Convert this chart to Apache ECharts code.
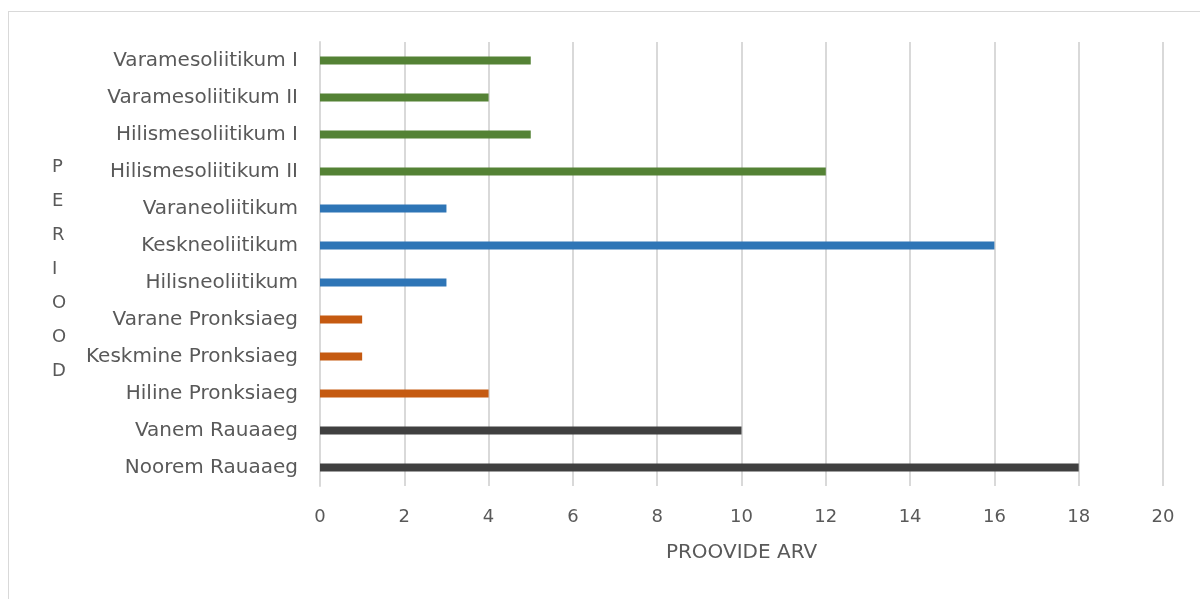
<!DOCTYPE html>
<html>
<head>
<meta charset="utf-8">
<script src="https://cdn.jsdelivr.net/npm/echarts@6/dist/echarts.min.js"></script>
<style>
  html, body { margin: 0; padding: 0; background: #fff; }
  #frame { position: absolute; left: 8px; top: 11px; width: 1300px; height: 700px;
           border-left: 1px solid #d9d9d9; border-top: 1px solid #d9d9d9; }
  #chart { position: absolute; left: 0; top: 0; width: 1200px; height: 599px; }
</style>
</head>
<body>
<div id="frame"></div>
<div id="chart"></div>
<script>
// Periods listed bottom to top, as the category axis draws them
const periods = [
  'Noorem Rauaaeg', 'Vanem Rauaaeg',
  'Hiline Pronksiaeg', 'Keskmine Pronksiaeg', 'Varane Pronksiaeg',
  'Hilisneoliitikum', 'Keskneoliitikum', 'Varaneoliitikum',
  'Hilismesoliitikum II', 'Hilismesoliitikum I', 'Varamesoliitikum II', 'Varamesoliitikum I'
];
// Number of samples per period
const sampleCounts = [18, 10, 4, 1, 1, 3, 16, 3, 12, 5, 4, 5];
// Epoch each period belongs to
const epochs = [
  'raud', 'raud',
  'pronks', 'pronks', 'pronks',
  'neoliit', 'neoliit', 'neoliit',
  'mesoliit', 'mesoliit', 'mesoliit', 'mesoliit'
];
const xTicks = [0, 2, 4, 6, 8, 10, 12, 14, 16, 18, 20];

const epochColor = {
  raud: '#404040',
  pronks: '#c55a11',
  neoliit: '#2e75b6',
  mesoliit: '#548235'
};

const textColor = '#595959';
const fontFamily = '"DejaVu Sans", sans-serif';

const chart = echarts.init(document.getElementById('chart'));
chart.setOption({
  animation: false,
  grid: { left: 320, right: 37, top: 42, bottom: 113 },
  xAxis: {
    type: 'value',
    min: xTicks[0],
    max: xTicks[xTicks.length - 1],
    interval: xTicks[1] - xTicks[0],
    name: 'PROOVIDE ARV',
    nameLocation: 'middle',
    nameGap: 57,
    nameTextStyle: { color: textColor, fontSize: 20, fontFamily },
    axisLine: { show: false },
    axisTick: { show: false },
    axisLabel: { color: textColor, fontSize: 18, fontFamily, margin: 22 },
    splitLine: { lineStyle: { color: '#d9d9d9', width: 2 } }
  },
  yAxis: {
    type: 'category',
    data: periods,
    axisLine: { lineStyle: { color: '#d9d9d9', width: 2 } },
    axisTick: { show: false },
    axisLabel: { color: textColor, fontSize: 20, fontFamily, margin: 22 },
    splitLine: { show: false }
  },
  graphic: [{
    type: 'text',
    left: 52,
    top: 150,
    style: {
      text: 'P\nE\nR\nI\nO\nO\nD',
      fill: textColor,
      font: '18px "DejaVu Sans", sans-serif',
      lineHeight: 34,
      align: 'center'
    }
  }],
  series: [{
    type: 'bar',
    barWidth: 8,
    data: sampleCounts.map((v, i) => ({
      value: v,
      itemStyle: { color: epochColor[epochs[i]] }
    }))
  }]
});
</script>
</body>
</html>
